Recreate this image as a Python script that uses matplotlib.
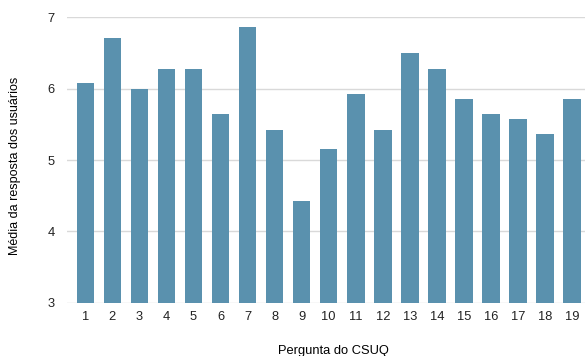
import matplotlib
matplotlib.use("Agg")
import matplotlib.pyplot as plt

plt.rcParams['font.family'] = ['Liberation Sans', 'DejaVu Sans']

# perguntas do CSUQ e media das respostas
perguntas = list(range(1, 20))
medias = [6.08, 6.71, 6.00, 6.28, 6.28, 5.64, 6.86, 5.42, 4.42, 5.15,
          5.93, 5.42, 6.50, 6.28, 5.86, 5.64, 5.57, 5.36, 5.86]

fig = plt.figure(figsize=(5.85, 3.56), dpi=100)
ax = fig.add_axes([0.1145, 0.149, 0.8855, 0.803])

ax.bar(perguntas, medias, width=0.65, color='#5a91ae', zorder=3)

ax.set_ylim(3, 7)
ax.set_xlim(0.32, 19.48)
ax.set_yticks([3, 4, 5, 6, 7])
ax.set_xticks(perguntas)
ax.set_xticklabels([str(p) for p in perguntas])

ax.grid(axis='y', color='#d9d9d9', linewidth=1, zorder=0)
for s in ax.spines.values():
    s.set_visible(False)
ax.tick_params(length=0, labelsize=9.3, colors='#222222')
ax.tick_params(axis='y', pad=9)
ax.tick_params(axis='x', pad=6)

ax.set_xlabel("Pergunta do CSUQ", fontsize=9.3)
ax.xaxis.set_label_coords(0.515, -0.146)
ax.set_ylabel("Média da resposta dos usuários", fontsize=9)
ax.yaxis.set_label_coords(-0.088, 0.48)

fig.savefig("out.png", dpi=100)
